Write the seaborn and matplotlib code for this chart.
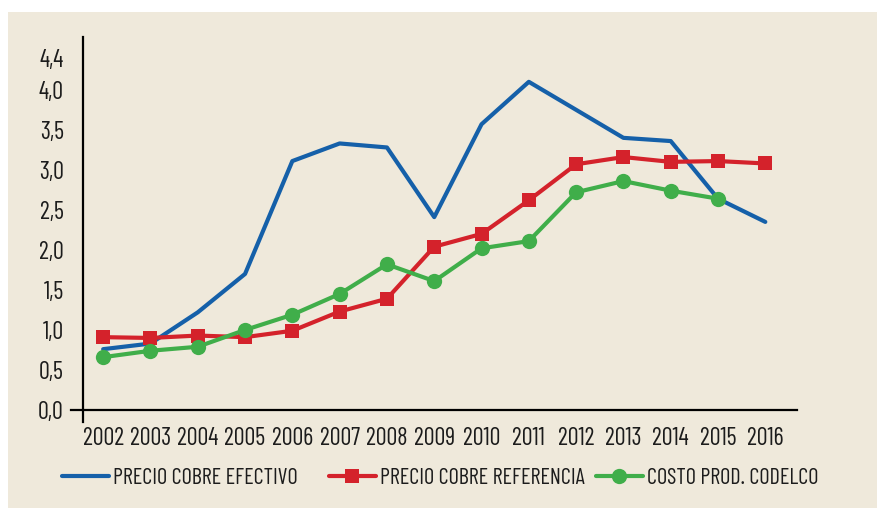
import matplotlib
matplotlib.use("Agg")
import matplotlib.pyplot as plt
from matplotlib.lines import Line2D
import pandas as pd
import seaborn as sns

# Data
years = list(range(2002, 2017))
precio_efectivo = [0.76, 0.83, 1.22, 1.70, 3.11, 3.33, 3.28, 2.41, 3.57, 4.10,
                   3.75, 3.40, 3.36, 2.64, 2.35]
precio_referencia = [0.91, 0.90, 0.93, 0.91, 0.99, 1.23, 1.39, 2.04, 2.20, 2.62,
                     3.07, 3.16, 3.10, 3.11, 3.08]
years_costo = list(range(2002, 2016))
costo_codelco = [0.66, 0.74, 0.79, 1.00, 1.19, 1.45, 1.82, 1.61, 2.02, 2.11,
                 2.72, 2.86, 2.74, 2.64]
y_ticks = [0.0, 0.5, 1.0, 1.5, 2.0, 2.5, 3.0, 3.5, 4.0, 4.4]
labels = ["PRECIO COBRE EFECTIVO", "PRECIO COBRE REFERENCIA", "COSTO PROD. CODELCO"]

BLUE = "#1560a9"
RED = "#d4222b"
GREEN = "#40ae4a"
BG = "#efe9db"
INK = "#1c1c1c"

sns.set_style("white")
plt.rcParams["font.family"] = ["Barlow Condensed", "DejaVu Sans"]

df_ef = pd.DataFrame({"year": years, "value": precio_efectivo})
df_ref = pd.DataFrame({"year": years, "value": precio_referencia})
df_cos = pd.DataFrame({"year": years_costo, "value": costo_codelco})

fig = plt.figure(figsize=(8.78, 5.08), dpi=100, facecolor="white")
fig.patches.append(plt.Rectangle((8 / 878, 0), 1, 496 / 508, transform=fig.transFigure,
                                 facecolor=BG, edgecolor="none", zorder=-1))
ax = fig.add_axes([71 / 878, 86 / 508, (797 - 71) / 878, (471 - 86) / 508])
ax.set_facecolor("none")

sns.lineplot(data=df_ef, x="year", y="value", ax=ax, color=BLUE, linewidth=3.0,
             zorder=2)
sns.lineplot(data=df_ref, x="year", y="value", ax=ax, color=RED, linewidth=3.0,
             marker="s", markersize=10, markeredgewidth=0, zorder=3)
sns.lineplot(data=df_cos, x="year", y="value", ax=ax, color=GREEN, linewidth=3.0,
             marker="o", markersize=11, markeredgewidth=0, zorder=4)

ax.set_xlim(2001.32, 2016.67)
ax.set_ylim(-0.15, 4.66)
ax.set_xticks(years, labels=[str(y) for y in years])
ax.set_yticks(y_ticks, labels=[f"{v:.1f}".replace(".", ",") for v in y_ticks])
ax.tick_params(axis="both", length=0, labelsize=17.5, labelcolor=INK)
ax.tick_params(axis="x", pad=12)
ax.tick_params(axis="y", pad=14)
ax.set_xlabel("")
ax.set_ylabel("")

for side in ["top", "right"]:
    ax.spines[side].set_visible(False)
ax.spines["bottom"].set_position(("data", 0))
ax.spines["left"].set_position(("data", 2001.58))
for side in ["bottom", "left"]:
    ax.spines[side].set_color("black")
    ax.spines[side].set_linewidth(1.6)

# Legend entries placed one by one, as in the original layout
handles = [
    Line2D([], [], color=BLUE, linewidth=3.0),
    Line2D([], [], color=RED, linewidth=3.0, marker="s", markersize=10, markeredgewidth=0),
    Line2D([], [], color=GREEN, linewidth=3.0, marker="o", markersize=11, markeredgewidth=0),
]
legend_x = [62, 329, 596]
for h, lab, x in zip(handles, labels, legend_x):
    fig.legend(handles=[h], labels=[lab], loc="center left",
               bbox_to_anchor=(x / 878, (508 - 478) / 508), frameon=False,
               fontsize=16, handlelength=2.1, handletextpad=0.2,
               borderpad=0, borderaxespad=0, labelcolor=INK)

fig.savefig("out.png", dpi=100, facecolor="white")
